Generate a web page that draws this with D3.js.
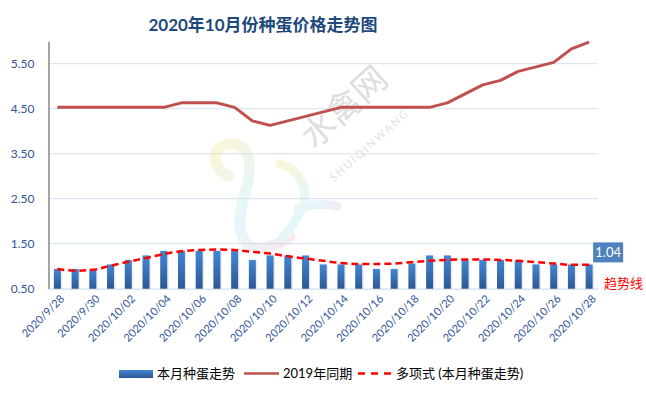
<!DOCTYPE html>
<html lang="zh">
<head>
<meta charset="UTF-8">
<title>2020年10月份种蛋价格走势图</title>
<style>
  body { margin: 0; background: #fff; }
  svg { display: block; font-family: "Lato", "Noto Sans CJK SC", sans-serif; }
</style>
</head>
<body>
<div id="chart"></div>
<script src="https://d3js.org/d3.v7.min.js"></script>
<script>
// 日期（横轴类别）
const dates = [
  "2020/9/28", "2020/9/29", "2020/9/30", "2020/10/01", "2020/10/02", "2020/10/03",
  "2020/10/04", "2020/10/05", "2020/10/06", "2020/10/07", "2020/10/08", "2020/10/09",
  "2020/10/10", "2020/10/11", "2020/10/12", "2020/10/13", "2020/10/14", "2020/10/15",
  "2020/10/16", "2020/10/17", "2020/10/18", "2020/10/19", "2020/10/20", "2020/10/21",
  "2020/10/22", "2020/10/23", "2020/10/24", "2020/10/25", "2020/10/26", "2020/10/27",
  "2020/10/28"
];

// 本月种蛋走势（柱）
const thisMonth = [
  0.94, 0.94, 0.94, 1.04, 1.14, 1.24, 1.34, 1.34, 1.34, 1.34, 1.34, 1.14,
  1.24, 1.24, 1.24, 1.04, 1.04, 1.04, 0.94, 0.94, 1.06, 1.24, 1.24, 1.14,
  1.14, 1.14, 1.14, 1.04, 1.04, 1.04, 1.04
];

// 2019年同期
const lastYear = [
  4.53, 4.53, 4.53, 4.53, 4.53, 4.53, 4.53, 4.63, 4.63, 4.63, 4.53, 4.23,
  4.13, 4.23, 4.33, 4.43, 4.53, 4.53, 4.53, 4.53, 4.53, 4.53, 4.63, 4.83,
  5.03, 5.13, 5.33, 5.43, 5.53, 5.83, 5.98
];

// 多项式趋势线
const trend = [
  0.94, 0.90, 0.92, 1.01, 1.10, 1.18, 1.27, 1.33, 1.36, 1.37, 1.36, 1.32,
  1.28, 1.22, 1.17, 1.12, 1.07, 1.05, 1.05, 1.06, 1.09, 1.12, 1.14, 1.15,
  1.15, 1.14, 1.12, 1.09, 1.06, 1.03, 1.03
];

const yTicks = [0.5, 1.5, 2.5, 3.5, 4.5, 5.5];

const width = 646, height = 395;
const plotLeft = 48.5, plotRight = 598, plotTop = 41.2, plotBottom = 288.7;

const svg = d3.select("#chart").append("svg")
  .attr("width", width)
  .attr("height", height);

const defs = svg.append("defs");
const grad = defs.append("linearGradient")
  .attr("id", "barGrad").attr("x1", 0).attr("y1", 0).attr("x2", 0).attr("y2", 1);
grad.append("stop").attr("offset", "0%").attr("stop-color", "#4386d4");
grad.append("stop").attr("offset", "100%").attr("stop-color", "#2c5895");

const wm = defs.append("linearGradient")
  .attr("id", "wmGrad").attr("x1", 0).attr("y1", 0).attr("x2", 1).attr("y2", 1);
wm.append("stop").attr("offset", "0%").attr("stop-color", "#f7df7a");
wm.append("stop").attr("offset", "50%").attr("stop-color", "#a6e6ea");
wm.append("stop").attr("offset", "100%").attr("stop-color", "#f2b3d8");

// 比例尺
const x = d3.scaleBand().domain(dates).range([plotLeft, plotRight]).paddingInner(0).paddingOuter(0);
const y = d3.scaleLinear().domain([0.5, 6]).range([plotBottom, plotTop]);
const cx = d => x(d) + x.bandwidth() / 2;

// 标题
svg.append("text")
  .attr("x", 263).attr("y", 31)
  .attr("text-anchor", "middle")
  .attr("font-size", 17).attr("font-weight", "bold")
  .attr("fill", "#1f497d")
  .text("2020年10月份种蛋价格走势图");

// 网格线
svg.append("g")
  .selectAll("line")
  .data(yTicks.slice(1))
  .join("line")
  .attr("x1", plotLeft).attr("x2", plotRight)
  .attr("y1", d => y(d)).attr("y2", d => y(d))
  .attr("stroke", "#d5e0ee").attr("stroke-width", 1);

// 水印
const mark = svg.append("g").attr("opacity", 0.3);
mark.append("path")
  .attr("d", "M228,176 C212,168 210,146 230,144 C252,142 252,170 246,190 C238,214 236,236 250,246 C262,252 280,244 290,236")
  .attr("fill", "none").attr("stroke", "url(#wmGrad)").attr("stroke-width", 11)
  .attr("stroke-linecap", "round");
mark.append("path")
  .attr("d", "M280,164 C300,170 312,190 300,212 C294,224 288,232 282,238 M298,208 C312,204 326,204 337,206")
  .attr("fill", "none").attr("stroke", "url(#wmGrad)").attr("stroke-width", 9)
  .attr("stroke-linecap", "round");

svg.append("text")
  .attr("transform", "translate(352,116) rotate(-42)")
  .attr("text-anchor", "middle")
  .attr("font-size", 34)
  .attr("fill", "#dedede")
  .text("水禽网");
svg.append("text")
  .attr("transform", "translate(372,148) rotate(-42)")
  .attr("text-anchor", "middle")
  .attr("font-size", 11)
  .attr("letter-spacing", 2)
  .attr("fill", "#e2e2e2")
  .text("SHUIQINWANG");

// 纵轴
const yAxis = svg.append("g")
  .attr("transform", `translate(${plotLeft},0)`)
  .call(d3.axisLeft(y).tickValues(yTicks).tickFormat(d3.format(".2f")).tickSize(0).tickPadding(14));
yAxis.select(".domain").attr("stroke", "#868686").attr("stroke-width", 1.5);
yAxis.selectAll("text")
  .attr("font-size", 12).attr("fill", "#2e5597")
  .attr("font-family", "Lato, sans-serif");

// 横轴
const xAxis = svg.append("g")
  .attr("transform", `translate(0,${plotBottom})`)
  .call(d3.axisBottom(x).tickValues(dates.filter((d, i) => i % 2 === 0)).tickSize(0).tickFormat(d => d));
xAxis.select(".domain").attr("stroke", "#d5dde8").attr("stroke-width", 1.3);
xAxis.selectAll("text")
  .attr("font-size", 11).attr("fill", "#2e5597")
  .attr("font-family", "Lato, sans-serif")
  .attr("text-anchor", "end")
  .attr("dy", "0.35em")
  .attr("transform", "translate(5,8) rotate(-45)")
  .attr("y", 0).attr("x", 0);

// 柱
const barW = 7;
const bars = svg.append("g");
bars.selectAll("rect.shadow")
  .data(thisMonth)
  .join("rect")
  .attr("class", "shadow")
  .attr("x", (d, i) => cx(dates[i]) - barW / 2 + 1.5)
  .attr("y", d => y(d) + 1)
  .attr("width", barW)
  .attr("height", d => plotBottom - y(d) - 1)
  .attr("fill", "#000").attr("opacity", 0.08);
bars.selectAll("rect.bar")
  .data(thisMonth)
  .join("rect")
  .attr("class", "bar")
  .attr("x", (d, i) => cx(dates[i]) - barW / 2)
  .attr("y", d => y(d))
  .attr("width", barW)
  .attr("height", d => plotBottom - y(d))
  .attr("fill", "url(#barGrad)");

// 2019年同期
const line = d3.line()
  .x((d, i) => cx(dates[i]))
  .y(d => y(d));
svg.append("path")
  .datum(lastYear)
  .attr("d", line)
  .attr("fill", "none")
  .attr("stroke", "#c0504d")
  .attr("stroke-width", 3)
  .attr("stroke-linejoin", "round");

// 趋势线
svg.append("path")
  .datum(trend)
  .attr("d", line.curve(d3.curveMonotoneX))
  .attr("fill", "none")
  .attr("stroke", "#ff0000")
  .attr("stroke-width", 2.5)
  .attr("stroke-dasharray", "7,4");

// 最后一根柱的数值标签
const lastI = thisMonth.length - 1;
const lx = cx(dates[lastI]) + 4, ly = y(thisMonth[lastI]) - 2;
svg.append("rect")
  .attr("x", lx).attr("y", ly - 20)
  .attr("width", 30).attr("height", 20)
  .attr("fill", "#4f81bd");
svg.append("text")
  .attr("x", lx + 15).attr("y", ly - 5.5)
  .attr("text-anchor", "middle")
  .attr("font-size", 13).attr("fill", "#fff")
  .text(d3.format(".2f")(thisMonth[lastI]));

svg.append("text")
  .attr("x", 604).attr("y", 288)
  .attr("font-size", 13).attr("fill", "#ff0000")
  .text("趋势线");

// 图例
const lg = svg.append("g").attr("font-size", 13).attr("fill", "#000");
lg.append("rect").attr("x", 119).attr("y", 370).attr("width", 34).attr("height", 8)
  .attr("fill", "url(#barGrad)");
lg.append("text").attr("x", 157).attr("y", 378).text("本月种蛋走势");
lg.append("line").attr("x1", 244).attr("x2", 279).attr("y1", 373.5).attr("y2", 373.5)
  .attr("stroke", "#c0504d").attr("stroke-width", 2.5);
lg.append("text").attr("x", 283).attr("y", 378).text("2019年同期");
lg.append("line").attr("x1", 358).attr("x2", 393).attr("y1", 373.5).attr("y2", 373.5)
  .attr("stroke", "#ff0000").attr("stroke-width", 2.5).attr("stroke-dasharray", "7,6");
lg.append("text").attr("x", 396).attr("y", 378).text("多项式 (本月种蛋走势)");
</script>
</body>
</html>
